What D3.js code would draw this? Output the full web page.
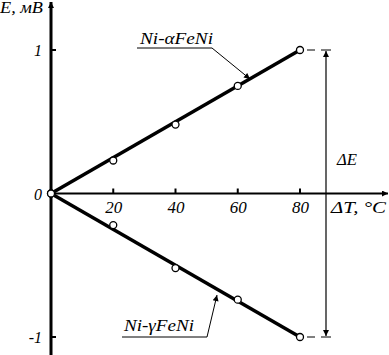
<!DOCTYPE html>
<html>
<head>
<meta charset="utf-8">
<script src="https://cdn.jsdelivr.net/npm/d3@7"></script>
<style>
  body { margin: 0; background: #fff; }
  svg { display: block; }
  text { font-family: "Liberation Serif", "Times New Roman", serif; font-style: italic; fill: #000; }
</style>
</head>
<body>
<svg id="chart" width="389" height="355"></svg>
<script>
// measured points
const temps = [0, 20, 40, 60, 80];
const alphaE = [0, 0.23, 0.48, 0.75, 1.0];
const gammaE = [0, -0.22, -0.52, -0.74, -1.0];
// straight fit lines (endpoints)
const fitT = [0, 80];
const alphaFit = [0, 1];
const gammaFit = [0, -1];
const xTicks = [20, 40, 60, 80];
const yTicks = [1, 0, -1];

const svg = d3.select('#chart');
const x = d3.scaleLinear().domain([0, 80]).range([51, 300]);
const y = d3.scaleLinear().domain([-1, 1]).range([337, 50]);
const y0 = y(0);

// stretched text helper (reference lettering is wide)
function label(tx, ty, str, size, len) {
    const t = svg.append('text').attr('x', tx).attr('y', ty)
        .attr('font-size', size).text(str);
    if (len) t.attr('textLength', len).attr('lengthAdjust', 'spacingAndGlyphs');
    return t;
}

const defs = svg.append('defs');
defs.append('marker')
    .attr('id', 'arr')
    .attr('viewBox', '0 0 10 10')
    .attr('refX', 10).attr('refY', 5)
    .attr('markerWidth', 10).attr('markerHeight', 6)
    .attr('markerUnits', 'userSpaceOnUse')
    .attr('orient', 'auto')
    .append('path').attr('d', 'M0,0 L10,5 L0,10 Z').attr('fill', '#000');

// x axis
svg.append('line')
    .attr('x1', x(0)).attr('x2', 388)
    .attr('y1', y0).attr('y2', y0)
    .attr('stroke', '#000').attr('stroke-width', 2)
    .attr('marker-end', 'url(#arr)');

svg.selectAll('.xtick')
    .data(xTicks).enter().append('line')
    .attr('x1', d => x(d)).attr('x2', d => x(d))
    .attr('y1', y0).attr('y2', y0 - 5)
    .attr('stroke', '#000').attr('stroke-width', 2);

svg.selectAll('.xlabel')
    .data(xTicks).enter().append('text')
    .attr('x', d => x(d) - 8).attr('y', y0 + 19)
    .attr('font-size', 16)
    .attr('textLength', 17).attr('lengthAdjust', 'spacingAndGlyphs')
    .text(d => d);

// y axis
svg.append('line')
    .attr('x1', x(0)).attr('x2', x(0))
    .attr('y1', 355).attr('y2', 2)
    .attr('stroke', '#000').attr('stroke-width', 3)
    .attr('marker-end', 'url(#arr)');

svg.selectAll('.ytick')
    .data(yTicks.filter(d => d !== 0)).enter().append('line')
    .attr('x1', x(0)).attr('x2', x(0) + 5)
    .attr('y1', d => y(d)).attr('y2', d => y(d))
    .attr('stroke', '#000').attr('stroke-width', 2);

svg.selectAll('.ylabel')
    .data(yTicks).enter().append('text')
    .attr('x', x(0) - 9).attr('y', d => y(d) + 6)
    .attr('text-anchor', 'end')
    .attr('font-size', 16)
    .text(d => d < 0 ? '-' + Math.abs(d) : d);

// axis titles
label(0, 13, 'E, мВ', 16, 43);
label(331, y0 + 19, 'ΔT, °C', 16, 55);

// fit lines
const line = d3.line().x(d => x(d[0])).y(d => y(d[1]));
[alphaFit, gammaFit].forEach(fit => {
    svg.append('path')
        .datum(fitT.map((t, i) => [t, fit[i]]))
        .attr('d', line)
        .attr('fill', 'none')
        .attr('stroke', '#000')
        .attr('stroke-width', 3.5);
});

// dashes to delta E bracket
const bx = 326;
[alphaFit[1], gammaFit[1]].forEach(v => {
    svg.append('line')
        .attr('x1', x(80) + 7).attr('x2', x(80) + 15)
        .attr('y1', y(v)).attr('y2', y(v))
        .attr('stroke', '#000').attr('stroke-width', 1);
    svg.append('line')
        .attr('x1', bx - 5).attr('x2', bx + 5)
        .attr('y1', y(v)).attr('y2', y(v))
        .attr('stroke', '#000').attr('stroke-width', 1);
});

// delta E bracket with arrows both ends
svg.append('line')
    .attr('x1', bx).attr('x2', bx)
    .attr('y1', y0).attr('y2', y(1) + 1)
    .attr('stroke', '#000').attr('stroke-width', 1.2)
    .attr('marker-end', 'url(#arr)');
svg.append('line')
    .attr('x1', bx).attr('x2', bx)
    .attr('y1', y0).attr('y2', y(-1) - 1)
    .attr('stroke', '#000').attr('stroke-width', 1.2)
    .attr('marker-end', 'url(#arr)');
label(337, 165, 'ΔE', 16, 20);

// points
[alphaE, gammaE].forEach(vals => {
    svg.selectAll(null)
        .data(temps.map((t, i) => [t, vals[i]]))
        .enter().append('circle')
        .attr('cx', d => x(d[0])).attr('cy', d => y(d[1]))
        .attr('r', 3.5)
        .attr('fill', '#fff').attr('stroke', '#000').attr('stroke-width', 1.3);
});

// callout labels
function callout(str, tx, ty, len, ux1, ux2, uy, tipX, tipY) {
    label(tx, ty, str, 16, len);
    svg.append('line')
        .attr('x1', ux1).attr('x2', ux2).attr('y1', uy).attr('y2', uy)
        .attr('stroke', '#000').attr('stroke-width', 1);
    svg.append('line')
        .attr('x1', ux2).attr('y1', uy).attr('x2', tipX).attr('y2', tipY)
        .attr('stroke', '#000').attr('stroke-width', 1)
        .attr('marker-end', 'url(#arr)');
}
callout('Ni-αFeNi', 140, 44, 73, 137, 212, 48, 250, 79);
callout('Ni-γFeNi', 124, 331, 70, 122, 207, 337, 217, 295);
</script>
</body>
</html>
